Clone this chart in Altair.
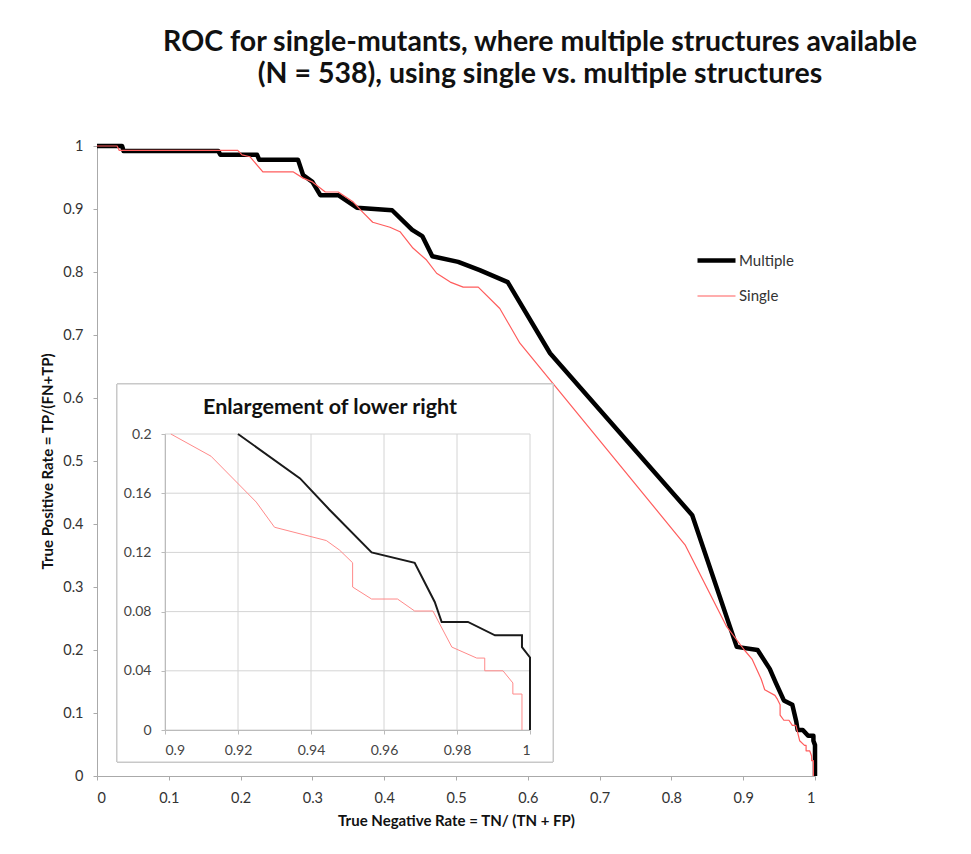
import altair as alt
import pandas as pd

# ---------------- data ----------------
series_names = ["Multiple", "Single"]

multiple_x = [0.0, 0.035, 0.037, 0.169, 0.172, 0.223, 0.226, 0.280, 0.287, 0.300,
              0.311, 0.336, 0.362, 0.411, 0.439, 0.453, 0.467, 0.503, 0.533, 0.572,
              0.631, 0.829, 0.891, 0.920, 0.937, 0.945, 0.9566, 0.9684, 0.9739, 0.9758,
              0.983, 0.9904, 0.9978, 0.9978, 1.0, 1.0]
multiple_y = [1.0, 1.0, 0.992, 0.992, 0.986, 0.986, 0.978, 0.978, 0.954, 0.943,
              0.922, 0.922, 0.902, 0.898, 0.867, 0.857, 0.825, 0.816, 0.803, 0.784,
              0.671, 0.414, 0.205, 0.200, 0.170, 0.149, 0.120, 0.113, 0.0865, 0.073,
              0.073, 0.064, 0.064, 0.056, 0.049, 0.0]

single_x = [0.0, 0.028, 0.031, 0.196, 0.202, 0.213, 0.231, 0.273, 0.287, 0.300,
            0.318, 0.336, 0.357, 0.370, 0.384, 0.408, 0.422, 0.440, 0.459, 0.473,
            0.492, 0.510, 0.531, 0.561, 0.589, 0.819, 0.877, 0.9016, 0.9126, 0.925,
            0.930, 0.9442, 0.9478, 0.9514, 0.9514, 0.9566, 0.9637, 0.9684, 0.9734, 0.9786,
            0.9854, 0.9876, 0.9876, 0.9926, 0.9953, 0.9953, 0.9978, 0.9978]
single_y = [1.0, 1.0, 0.993, 0.993, 0.986, 0.983, 0.959, 0.959, 0.949, 0.943,
            0.927, 0.927, 0.911, 0.895, 0.879, 0.871, 0.864, 0.838, 0.819, 0.798,
            0.784, 0.776, 0.776, 0.742, 0.687, 0.367, 0.237, 0.200, 0.185, 0.154,
            0.137, 0.128, 0.1216, 0.113, 0.0966, 0.0885, 0.0885, 0.0804, 0.0804, 0.056,
            0.0486, 0.0486, 0.040, 0.040, 0.0318, 0.0243, 0.0243, 0.0]

main_ticks = [0, 0.1, 0.2, 0.3, 0.4, 0.5, 0.6, 0.7, 0.8, 0.9, 1.0]
inset_x_ticks = [0.9, 0.92, 0.94, 0.96, 0.98, 1.0]
inset_y_ticks = [0, 0.04, 0.08, 0.12, 0.16, 0.2]

title_lines = ["ROC for single-mutants, where multiple structures available",
               "(N = 538), using single vs. multiple structures"]
inset_title = "Enlargement of lower right"

# ---------------- tables ----------------
rows = []
for i, (x, y) in enumerate(zip(multiple_x, multiple_y)):
    rows.append({"series": "Multiple", "x": x, "y": y, "i": i})
for i, (x, y) in enumerate(zip(single_x, single_y)):
    rows.append({"series": "Single", "x": x, "y": y, "i": i})
df = pd.DataFrame(rows)
vgrid = pd.DataFrame({"v": inset_x_ticks})
hgrid = pd.DataFrame({"h": inset_y_ticks})

FONT = "Lato"
W, H = 718, 630
IX0, IX1, IY0, IY1 = 68, 433, 288, 584  # inset plot area (pixels in main plot)

# ---------------- main chart ----------------
legend = alt.Legend(title=None, orient="none", legendX=598, legendY=93,
                    symbolType="stroke", symbolSize=1444, labelFont=FONT,
                    labelFontSize=15, labelColor="#333", labelOffset=1,
                    rowPadding=6)

main = alt.Chart(df).mark_line(strokeJoin="round").encode(
    x=alt.X("x:Q", scale=alt.Scale(domain=[0, 1], nice=False),
            axis=alt.Axis(values=main_ticks, format="~g", grid=False,
                          title="True Negative Rate = TN/ (TN + FP)",
                          titleFont=FONT, titleFontSize=15, titleFontWeight="bold",
                          titleColor="#111", titlePadding=9,
                          labelFont=FONT, labelFontSize=14.5, labelColor="#333",
                          domainColor="#aaa", tickColor="#aaa", tickSize=4,
                          labelPadding=11)),
    y=alt.Y("y:Q", scale=alt.Scale(domain=[0, 1], nice=False),
            axis=alt.Axis(values=main_ticks, format="~g", grid=False,
                          title="True Positive Rate = TP/(FN+TP)",
                          titleFont=FONT, titleFontSize=15, titleFontWeight="bold",
                          titleColor="#111", titlePadding=7,
                          labelFont=FONT, labelFontSize=14.5, labelColor="#333",
                          domainColor="#aaa", tickColor="#aaa", tickSize=4,
                          labelPadding=10)),
    color=alt.Color("series:N", scale=alt.Scale(domain=series_names,
                                                range=["#000000", "#ff5c5c"]),
                    legend=legend),
    strokeWidth=alt.StrokeWidth("series:N", scale=alt.Scale(domain=series_names,
                                                            range=[4.5, 1.2]),
                                legend=legend),
    order=alt.Order("i:Q"),
)

# ---------------- inset ----------------
ix_scale = alt.Scale(domain=[0.9, 1.0], range=[IX0, IX1], nice=False, zero=False, clamp=True)
iy_scale = alt.Scale(domain=[0, 0.2], range=[IY1, IY0], nice=False, clamp=True)
ix_axis = alt.Axis(values=inset_x_ticks, format="~g", orient="bottom", offset=-(H - IY1),
                   grid=False, title=None, labelFont=FONT, labelFontSize=14,
                   labelColor="#444", domainColor="#bbb", tickColor="#bbb",
                   tickSize=4, zindex=2, labelPadding=9)
iy_axis = alt.Axis(values=inset_y_ticks, format="~g", orient="left", offset=-IX0,
                   grid=False, title=None, labelFont=FONT, labelFontSize=14,
                   labelColor="#444", domainColor="#bbb", tickColor="#bbb",
                   tickSize=4, zindex=2, labelPadding=10)

box = alt.Chart(vgrid).mark_rect(fill="white", stroke="#c8c8c8", strokeWidth=1).encode(
    x=alt.value(20), x2=alt.value(456), y=alt.value(238), y2=alt.value(616))

vlines = alt.Chart(vgrid).mark_rule(color="#d4d4d4", strokeWidth=1).encode(
    x=alt.X("v:Q", scale=ix_scale, axis=ix_axis),
    y=alt.value(IY0), y2=alt.value(IY1))

hlines = alt.Chart(hgrid).mark_rule(color="#d4d4d4", strokeWidth=1).encode(
    y=alt.Y("h:Q", scale=iy_scale, axis=iy_axis),
    x=alt.value(IX0), x2=alt.value(IX1))

inset_lines = alt.Chart(df).transform_filter(alt.datum.x >= 0.9).mark_line().encode(
    x=alt.X("x:Q", scale=ix_scale, axis=ix_axis),
    y=alt.Y("y:Q", scale=iy_scale, axis=iy_axis),
    color=alt.Color("series:N", scale=alt.Scale(domain=series_names,
                                                range=["#1a1a1a", "#ff8a8a"]),
                    legend=None),
    strokeWidth=alt.StrokeWidth("series:N", scale=alt.Scale(domain=series_names,
                                                            range=[2.0, 1.0]),
                                legend=None),
    order=alt.Order("i:Q"),
)

ititle = alt.Chart(vgrid).transform_aggregate(n="count()").mark_text(
    text=inset_title, font=FONT, fontSize=21.5, fontWeight="bold", color="#111",
    align="center", baseline="middle").encode(x=alt.value(233), y=alt.value(262))

inset = alt.layer(box, vlines, hlines, inset_lines, ititle)

chart = alt.layer(main, inset).resolve_scale(
    x="independent", y="independent", color="independent", strokeWidth="independent"
).properties(
    width=W, height=H,
    title=alt.TitleParams(text=title_lines, font=FONT, fontSize=28.5, fontWeight="bold",
                          color="#111", anchor="middle", dx=84, offset=50,
                          lineHeight=32),
    padding={"left": 89, "top": 138, "right": 140, "bottom": 70},
    autosize=alt.AutoSizeParams(type="none"),
).configure(background="white").configure_view(stroke=None, strokeWidth=0)

chart.save("out.html", embed_options={"renderer": "svg", "actions": False})
